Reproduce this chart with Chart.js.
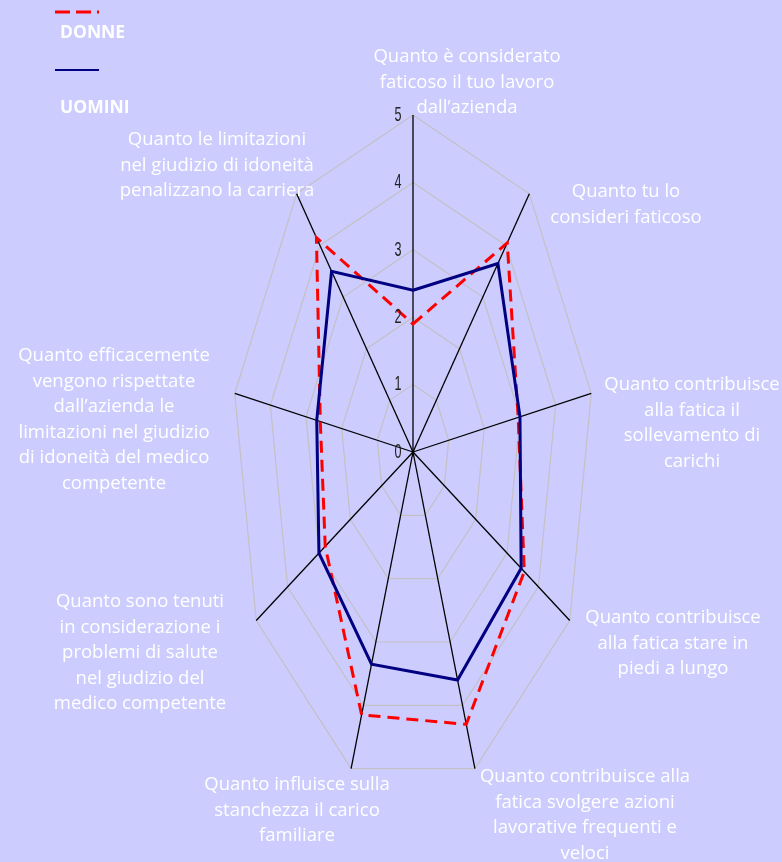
<!DOCTYPE html>
<html>
<head>
<meta charset="utf-8">
<script src="https://cdn.jsdelivr.net/npm/chart.js@4.4.1/dist/chart.umd.min.js"></script>
<style>
  html, body { margin: 0; padding: 0; background: #ccccff; }
  #wrap { width: 782px; height: 862px; }
</style>
</head>
<body>
<div id="wrap"><canvas id="chart" width="782" height="862"></canvas></div>
<script>
// categories (one entry per axis, split in lines as in the original)
const categories = [
  ["Quanto è considerato", "faticoso il tuo lavoro", "dall’azienda"],
  ["Quanto tu lo", "consideri faticoso"],
  ["Quanto contribuisce", "alla fatica il", "sollevamento di", "carichi"],
  ["Quanto contribuisce", "alla fatica stare in", "piedi a lungo"],
  ["Quanto contribuisce alla", "fatica svolgere azioni", "lavorative frequenti e", "veloci"],
  ["Quanto influisce sulla", "stanchezza il carico", "familiare"],
  ["Quanto sono tenuti", "in considerazione i", "problemi di salute", "nel giudizio del", "medico competente"],
  ["Quanto efficacemente", "vengono rispettate", "dall’azienda le", "limitazioni nel giudizio", "di idoneità del medico", "competente"],
  ["Quanto le limitazioni", "nel giudizio di idoneità", "penalizzano la carriera"]
];

const donne = [1.9, 4.05, 2.95, 3.55, 4.3, 4.15, 2.8, 2.6, 4.15];
const uomini = [2.4, 3.65, 3.0, 3.45, 3.6, 3.35, 3.0, 2.7, 3.5];

const tickValues = [0, 1, 2, 3, 4, 5];

// where the category text sits (centre x, first line y)
const labelPos = [
  [467, 57], [626, 192], [692, 385], [673, 618], [585, 777],
  [297, 785], [140, 602], [114, 356], [217, 140]
];

// the original radar is narrower than tall
const SQUISH = 181 / 337;

class SquishedRadial extends Chart.RadialLinearScale {
  getPointPosition(index, distance, extraAngle = 0) {
    const p = super.getPointPosition(index, distance, extraAngle);
    p.x = this.xCenter + (p.x - this.xCenter) * SQUISH;
    return p;
  }
}
SquishedRadial.id = "squishedRadial";
SquishedRadial.defaults = Chart.RadialLinearScale.defaults;
Chart.register(SquishedRadial);

const textPlugin = {
  id: "textPlugin",
  afterDraw(chart) {
    const ctx = chart.ctx;
    ctx.save();
    ctx.textAlign = "center";
    ctx.textBaseline = "middle";

    // category labels
    ctx.fillStyle = "#ffffff";
    ctx.font = '18.5px "Open Sans"';
    categories.forEach((lines, i) => {
      const [x, y] = labelPos[i];
      lines.forEach((t, j) => ctx.fillText(t, x, y + j * 25.5));
    });

    // tick numbers in a narrow face, left of the top axis
    const r = chart.scales.r;
    r.ticks.forEach((t) => {
      const p = r.getPointPositionForValue(0, t.value);
      ctx.save();
      ctx.translate(p.x - 15, p.y);
      ctx.scale(0.6, 1);
      ctx.fillStyle = "#222222";
      ctx.font = '21px "Liberation Sans"';
      ctx.fillText(String(t.value), 0, 0);
      ctx.restore();
    });

    // legend, stacked like the excel one
    const ds = chart.data.datasets;
    const rows = [
      { set: ds[0], lineY: 12, textY: 33 },
      { set: ds[1], lineY: 70, textY: 108 }
    ];
    rows.forEach((row) => {
      ctx.beginPath();
      ctx.strokeStyle = row.set.borderColor;
      ctx.lineWidth = row.set.borderDash ? 3 : 2;
      ctx.setLineDash(row.set.borderDash ? [15, 6] : []);
      ctx.moveTo(55, row.lineY);
      ctx.lineTo(99, row.lineY);
      ctx.stroke();
      ctx.setLineDash([]);
      ctx.fillStyle = "#ffffff";
      ctx.font = 'bold 17.5px "Open Sans"';
      ctx.textAlign = "left";
      ctx.fillText(row.set.label, 60, row.textY);
    });
    ctx.restore();
  }
};

const ctx = document.getElementById("chart").getContext("2d");
new Chart(ctx, {
  type: "radar",
  data: {
    labels: categories,
    datasets: [
      {
        label: "DONNE",
        data: donne,
        borderColor: "#ff0000",
        borderWidth: 3,
        borderDash: [12, 7],
        fill: false,
        pointRadius: 0,
        order: 1
      },
      {
        label: "UOMINI",
        data: uomini,
        borderColor: "#000080",
        borderWidth: 3,
        fill: false,
        pointRadius: 0,
        order: 0
      }
    ]
  },
  options: {
    responsive: false,
    animation: false,
    layout: { padding: { left: 50, right: 5, top: 115, bottom: 73 } },
    plugins: { legend: { display: false }, tooltip: { enabled: false } },
    elements: { line: { tension: 0 } },
    scales: {
      r: {
        type: "squishedRadial",
        min: tickValues[0],
        max: tickValues[tickValues.length - 1],
        ticks: { stepSize: 1, display: false },
        grid: { circular: false, color: "#c4c0c4", lineWidth: 1.2 },
        angleLines: { display: true, color: "#000000", lineWidth: 1.3 },
        pointLabels: { display: false }
      }
    }
  },
  plugins: [textPlugin]
});
</script>
</body>
</html>
